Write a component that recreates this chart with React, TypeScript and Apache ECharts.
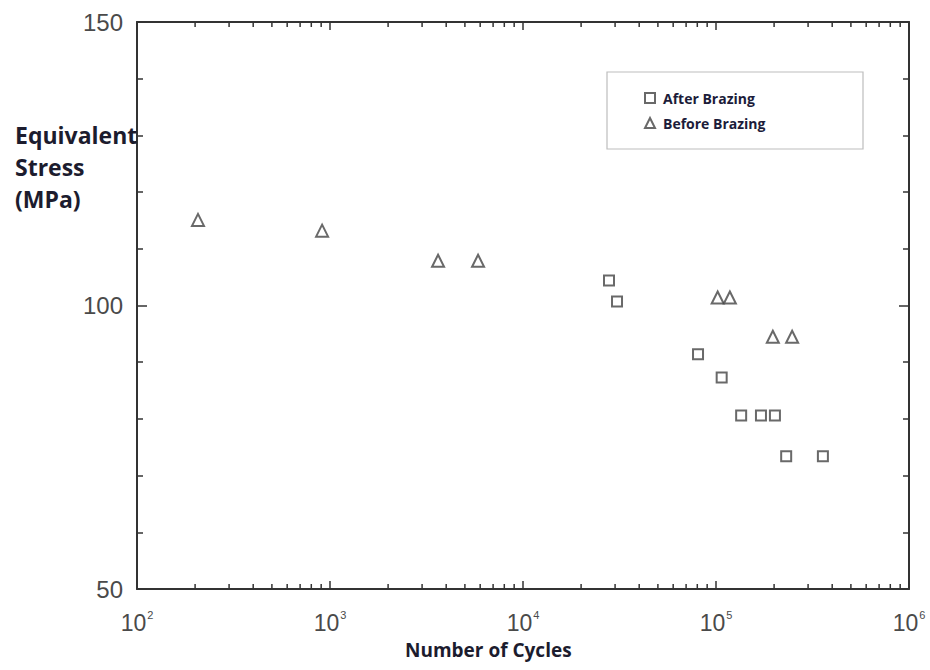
import React, { useEffect, useRef } from "react";
import * as echarts from "echarts";

const afterCycles = [27900, 30700, 80700, 107000, 135000, 171000, 202000, 231000, 358000];
const afterStress = [104.4, 100.7, 91.4, 87.3, 80.6, 80.6, 80.6, 73.4, 73.4];
const beforeCycles = [207, 910, 3630, 5850, 102000, 118000, 197000, 248000];
const beforeStress = [115.1, 113.2, 107.9, 107.9, 101.4, 101.4, 94.5, 94.5];
const minorXTicks = [
  200, 300, 400, 500, 600, 700, 800, 900,
  2000, 3000, 4000, 5000, 6000, 7000, 8000, 9000,
  20000, 30000, 40000, 50000, 60000, 70000, 80000, 90000,
  200000, 300000, 400000, 500000, 600000, 700000, 800000, 900000,
];
const seriesNames = ["After Brazing", "Before Brazing"];
const yTitleLines = ["Equivalent", "Stress", "(MPa)"];
const xTitle = "Number of Cycles";

export default function App() {
  const ref = useRef<HTMLDivElement>(null);
  useEffect(() => {
    if (!ref.current) return;
    const chart = echarts.init(ref.current, null, { renderer: "svg" });
    const axisColor = "#333";
    const labelColor = "#4a4a4a";
    const markerStyle = { color: "#fff", borderColor: "#444", borderWidth: 2 };
    const xAxisBase = {
      type: "log" as const,
      min: 100,
      max: 1000000,
      logBase: 10,
      axisLine: { show: true, lineStyle: { color: axisColor, width: 2 } },
      axisTick: { show: true, inside: true, length: 8, lineStyle: { color: axisColor, width: 1.5 } },
      splitLine: { show: false },
    };
    const yAxisBase = {
      type: "value" as const,
      min: 50,
      max: 150,
      interval: 50,
      axisLine: { show: true, lineStyle: { color: axisColor, width: 2 } },
      axisTick: { show: true, inside: true, length: 10, lineStyle: { color: axisColor, width: 1.5 } },
      minorTick: { show: true, splitNumber: 5, length: 6, lineStyle: { color: axisColor, width: 1.5 } },
      splitLine: { show: false },
    };
    chart.setOption({
      animation: false,
      backgroundColor: "#fff",
      grid: { left: 137, right: 21, top: 22, bottom: 81, containLabel: false },
      xAxis: [
        {
          ...xAxisBase,
          position: "bottom",
          axisLabel: {
            show: true,
            margin: 20,
            formatter: (v: number) => `{b|10}{s|${Math.round(Math.log10(v))}}`,
            rich: {
              b: { fontSize: 23, color: labelColor, fontFamily: "Liberation Sans", verticalAlign: "bottom" },
              s: { fontSize: 11, color: labelColor, fontFamily: "Liberation Sans", padding: [0, 0, 14, 1] },
            },
          },
        },
        { ...xAxisBase, position: "top", axisLabel: { show: false } },
      ],
      yAxis: [
        {
          ...yAxisBase,
          position: "left",
          axisLabel: { show: true, margin: 14, fontSize: 24, color: labelColor, fontFamily: "Liberation Sans" },
        },
        { ...yAxisBase, position: "right", axisLabel: { show: false } },
      ],
      legend: {
        orient: "vertical",
        left: 644,
        top: 91,
        itemGap: 11,
        itemWidth: 10,
        itemHeight: 10,
        padding: 0,
        data: seriesNames,
        textStyle: { fontFamily: "Open Sans", fontWeight: "bold", fontSize: 14, color: "#1c1c3a", padding: [0, 0, 0, 3] },
      },
      graphic: [
        {
          type: "rect",
          shape: { x: 607, y: 72, width: 256, height: 77 },
          style: { fill: "transparent", stroke: "#bdbdbd", lineWidth: 1.2 },
          z: 1,
        },
        {
          type: "text",
          left: 15,
          top: 119,
          z: 100,
          style: {
            text: yTitleLines.join("\n"),
            font: "bold 23px 'Open Sans'",
            lineHeight: 32,
            fill: "#1c1c2e",
          },
        },
        {
          type: "text",
          left: 405,
          top: 640,
          z: 100,
          style: {
            text: xTitle,
            font: "bold 19px 'Open Sans'",
            fill: "#1c1c2e",
          },
        },
      ],
      series: [
        {
          name: seriesNames[0],
          type: "scatter",
          symbol: "rect",
          symbolSize: 10,
          itemStyle: markerStyle,
          data: afterCycles.map((c, i) => [c, afterStress[i]]),
          z: 5,
        },
        {
          name: seriesNames[1],
          type: "scatter",
          symbol: "triangle",
          symbolSize: 12,
          itemStyle: markerStyle,
          data: beforeCycles.map((c, i) => [c, beforeStress[i]]),
          z: 5,
        },
        {
          type: "custom",
          silent: true,
          xAxisIndex: 0,
          yAxisIndex: 0,
          data: minorXTicks.map((v) => [v]),
          encode: { x: 0 },
          renderItem: (params: any, api: any) => {
            const v = api.value(0);
            const b = api.coord([v, 50]);
            const t = api.coord([v, 150]);
            const st = { stroke: axisColor, lineWidth: 1.5 };
            return {
              type: "group",
              children: [
                { type: "line", shape: { x1: b[0], y1: b[1], x2: b[0], y2: b[1] - 5 }, style: st },
                { type: "line", shape: { x1: t[0], y1: t[1], x2: t[0], y2: t[1] + 5 }, style: st },
              ],
            };
          },
          z: 3,
        },
      ],
    });
    return () => chart.dispose();
  }, []);
  return (
    <div
      ref={ref}
      style={{ position: "fixed", left: 0, top: 0, width: 930, height: 670 }}
    />
  );
}
